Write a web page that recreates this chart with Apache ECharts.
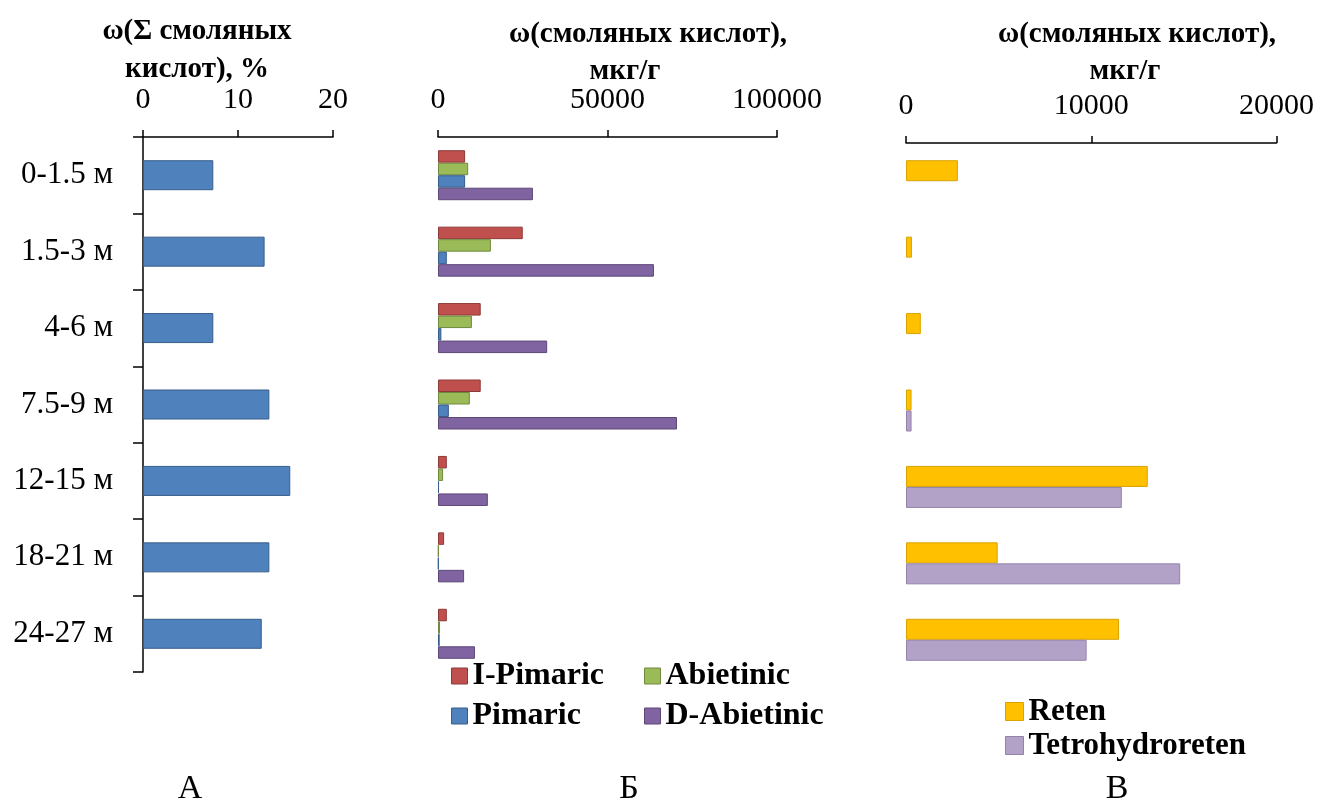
<!DOCTYPE html>
<html>
<head>
<meta charset="utf-8">
<script src="https://cdn.jsdelivr.net/npm/echarts@6/dist/echarts.min.js"></script>
<style>
  html, body { margin: 0; padding: 0; background: #fff; }
  #chart { width: 1317px; height: 803px; }
</style>
</head>
<body>
<div id="chart"></div>
<script>
// Sampling depth intervals
const depths = ['0-1.5 м', '1.5-3 м', '4-6 м', '7.5-9 м', '12-15 м', '18-21 м', '24-27 м'];

// Panel А: total resin acids, %
const sumAcids = [7.4, 12.8, 7.4, 13.3, 15.5, 13.3, 12.5];

// Panel Б: individual resin acids, мкг/г
const iPimaric = [8000, 25000, 12600, 12600, 2600, 1800, 2600];
const abietinic = [8900, 15600, 10000, 9400, 1500, 200, 600];
const pimaric = [8000, 2600, 1000, 3200, 300, 200, 500];
const dAbietinic = [28000, 63700, 32200, 70500, 14700, 7700, 10900];

// Panel В: retene and tetrahydroretene, мкг/г
const reten = [2800, 320, 800, 300, 13050, 4950, 11500];
const tetrohydroreten = [0, 0, 0, 300, 11650, 14800, 9750];

const FONT = '"Liberation Serif", "Times New Roman", serif';
const tickLabel = { fontFamily: FONT, fontSize: 30, color: '#000' };

function valueAxis(gridIndex, max, interval) {
  return {
    type: 'value', gridIndex, position: 'top', min: 0, max, interval,
    axisLine: { show: true, lineStyle: { color: '#000', width: 1.5 } },
    axisTick: { show: true, length: 7, lineStyle: { color: '#000', width: 1.5 } },
    axisLabel: Object.assign({ margin: 22, formatter: (v) => String(v) }, tickLabel),
    splitLine: { show: false }
  };
}

function catAxis(gridIndex, visible) {
  return {
    type: 'category', gridIndex, data: depths, inverse: true,
    axisLine: { show: visible, lineStyle: { color: '#000', width: 1.5 } },
    axisTick: { show: visible, length: 10, lineStyle: { color: '#000', width: 1.5 } },
    axisLabel: Object.assign({ show: visible, margin: 30 }, tickLabel, { fontSize: 31 })
  };
}

// zero values are left without a visible mark
function barSeries(name, data, xi, color, border, width) {
  return {
    type: 'bar', name, xAxisIndex: xi, yAxisIndex: xi,
    data: data.map((v) => (v === 0 ? null : v)),
    barWidth: width, barGap: '0%',
    itemStyle: { color, borderColor: border, borderWidth: 1 },
    emphasis: { disabled: true }
  };
}

function label(x, y, text, font) {
  return {
    type: 'text', x, y,
    style: { text, font, fill: '#000', textAlign: 'center', textVerticalAlign: 'middle' }
  };
}

const titleFont = 'bold 29px ' + FONT;
const letterFont = '34px ' + FONT;

function legend(data, left, top, gap, size, fontSize) {
  return {
    data, orient: 'vertical', left, top, icon: 'rect',
    itemWidth: size, itemHeight: size, itemGap: gap,
    textStyle: { fontFamily: FONT, fontSize, fontWeight: 'bold', color: '#000' },
    selectedMode: false,
    itemStyle: { borderWidth: 1 }
  };
}

const option = {
  animation: false,
  backgroundColor: '#fff',
  grid: [
    { left: 143, top: 137, width: 190, height: 535 },
    { left: 438, top: 137, width: 339, height: 535 },
    { left: 906, top: 143, width: 371, height: 535 }
  ],
  xAxis: [
    valueAxis(0, 20, 10),
    valueAxis(1, 100000, 50000),
    valueAxis(2, 20000, 10000)
  ],
  yAxis: [catAxis(0, true), catAxis(1, false), catAxis(2, false)],
  legend: [
    legend(['I-Pimaric', 'Pimaric'], 446, 655, 8, 16, 32),
    legend(['Abietinic', 'D-Abietinic'], 639, 655, 8, 16, 32),
    legend(['Reten', 'Tetrohydroreten'], 1000, 691, 3, 18, 31)
  ],
  series: [
    barSeries('Σ', sumAcids, 0, '#4F81BD', '#385D8A', 30),
    barSeries('I-Pimaric', iPimaric, 1, '#C0504D', '#8C3A38', 12.5),
    barSeries('Abietinic', abietinic, 1, '#9BBB59', '#71893F', 12.5),
    barSeries('Pimaric', pimaric, 1, '#4F81BD', '#385D8A', 12.5),
    barSeries('D-Abietinic', dAbietinic, 1, '#8064A2', '#5C4776', 12.5),
    barSeries('Reten', reten, 2, '#FFC000', '#D9A300', 21),
    barSeries('Tetrohydroreten', tetrohydroreten, 2, '#B3A2C7', '#9482AD', 21)
  ],
  graphic: [
    label(197, 32, 'ω(Σ смоляных', titleFont),
    label(197, 70, 'кислот), %', titleFont),
    label(648, 35, 'ω(смоляных кислот),', titleFont),
    label(625, 72, 'мкг/г', titleFont),
    label(1137, 35, 'ω(смоляных кислот),', titleFont),
    label(1125, 72, 'мкг/г', titleFont),
    label(190, 789, 'А', letterFont),
    label(629, 789, 'Б', letterFont),
    label(1117, 789, 'В', letterFont)
  ]
};

const chart = echarts.init(document.getElementById('chart'), null, { renderer: 'canvas' });
chart.setOption(option);
</script>
</body>
</html>
